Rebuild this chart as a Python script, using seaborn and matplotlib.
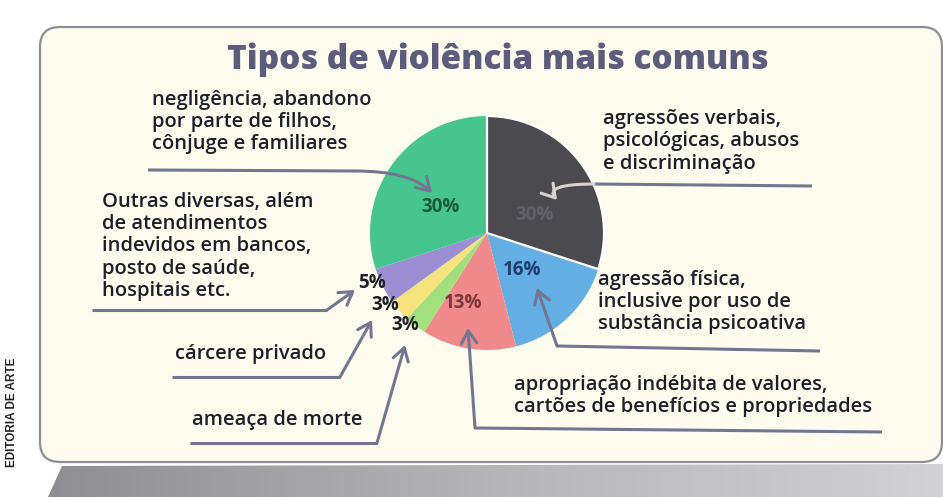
import numpy as np
import matplotlib
matplotlib.use("Agg")
import matplotlib.pyplot as plt
import seaborn as sns
from matplotlib.colors import LinearSegmentedColormap
from matplotlib.patches import FancyBboxPatch, Polygon

# --- data -------------------------------------------------------------
categories = [
    "agressões verbais,\npsicológicas, abusos\ne discriminação",
    "agressão física,\ninclusive por uso de\nsubstância psicoativa",
    "apropriação indébita de valores,\ncartões de benefícios e propriedades",
    "ameaça de morte",
    "cárcere privado",
    "Outras diversas, além\nde atendimentos\nindevidos em bancos,\nposto de saúde,\nhospitais etc.",
    "negligência, abandono\npor parte de filhos,\ncônjuge e familiares",
]
shares = [30, 16, 13, 3, 3, 5, 30]
title = "Tipos de violência mais comuns"
credit = "EDITORIA DE ARTE"

# --- styling ----------------------------------------------------------
wedge_colors = ["#4b4a4f", "#63aee2", "#f08a8c", "#a2e07e", "#f6e27c", "#9b8ed2", "#47c58e"]
pct_colors = ["#606066", "#1f3d6c", "#7a3a3a", "#1f1f26", "#1f1f26", "#1f1f26", "#1c5a3a"]
pct_pos = [(535, 215), (522, 270), (463, 303), (405, 325), (385, 305), (372, 283), (440, 207)]

# label anchor (left, top)
label_pos = [(603, 109), (598, 270), (514, 375), (192, 410), (175, 344), (102, 192), (152, 90)]

# leader lines: underline polyline, then arrow (start -> tip)
leader_lines = [
    [(812, 186), (594, 184)],
    [(557, 346), (820, 351)],
    [(475, 428), (882, 432)],
    [(190, 443), (377, 443)],
    [(172, 377), (340, 377)],
    [(92, 310), (327, 310)],
    [(148, 170), (355, 171)],
]
arrows = [
    ((594, 184), (557, 200), "angle3,angleA=0,angleB=-50", "#d9d3cf"),
    ((557, 346), (537, 288), "arc3,rad=0", "#737690"),
    ((475, 428), (468, 328), "arc3,rad=0", "#737690"),
    ((377, 443), (405, 345), "arc3,rad=0", "#737690"),
    ((340, 377), (372, 320), "arc3,rad=0", "#737690"),
    ((327, 310), (355, 290), "arc3,rad=0", "#737690"),
    ((355, 171), (432, 193), "angle3,angleA=0,angleB=-45", "#737690"),
]
line_color = "#737690"

sns.set_theme(style="white")
plt.rcParams["font.family"] = ["Open Sans", "DejaVu Sans"]

fig = plt.figure(figsize=(9.43, 4.97), dpi=100)
fig.patch.set_facecolor("white")
ax = fig.add_axes([0, 0, 1, 1])

# soft shadow under the panel: horizontal grey gradient clipped to a strip
grad = np.linspace(0.0, 1.0, 256)[None, :]
shade_cmap = LinearSegmentedColormap.from_list("shade", ["#8f8f93", "#b5b5b8", "#d2d2d4"])
shade = ax.imshow(grad, extent=(45, 943, 497, 462), cmap=shade_cmap, aspect="auto",
                  zorder=0, interpolation="bilinear")
strip = Polygon([(62, 466), (943, 464), (943, 497), (48, 497)], closed=True,
                fc="none", ec="none", transform=ax.transData)
ax.add_patch(strip)
shade.set_clip_path(strip)

# panel
ax.add_patch(FancyBboxPatch((40, 27), 902, 435, boxstyle="round,pad=0,rounding_size=20",
                            fc="#fdfcee", ec="#8e8e96", lw=1.6, zorder=1))

wedges, _ = ax.pie(shares, colors=sns.color_palette(wedge_colors), startangle=-90,
                   counterclock=True, center=(487, 233), radius=117, frame=True,
                   wedgeprops=dict(linewidth=0))
for w in wedges:
    w.set_zorder(2)
wedges[0].set_edgecolor("white")
wedges[0].set_linewidth(1.6)
wedges[0].set_zorder(3)

ax.set_xlim(0, 943)
ax.set_ylim(497, 0)
ax.set_aspect("auto")
ax.axis("off")

# percentages
for v, (x, y), c in zip(shares, pct_pos, pct_colors):
    ax.text(x, y, f"{v}%", ha="center", va="center", fontsize=13.5, fontweight="bold",
            color=c, zorder=5)

# category labels
for txt, (x, y) in zip(categories, label_pos):
    ax.text(x, y, txt, ha="left", va="top", fontsize=14.5, fontweight="semibold",
            color="#1f1f2a", linespacing=1.15, zorder=5)

# leader lines
for pts in leader_lines:
    xs, ys = zip(*pts)
    ax.plot(xs, ys, color=line_color, lw=2.2, solid_capstyle="butt", zorder=4)
for start, tip, conn, col in arrows:
    ax.annotate("", xy=tip, xytext=start,
                arrowprops=dict(arrowstyle="->,head_length=0.45,head_width=0.28",
                                mutation_scale=20, color=col, lw=2.2,
                                shrinkA=0, shrinkB=0, connectionstyle=conn),
                zorder=6)

ax.text(498, 60, title, ha="center", va="center", fontsize=24, fontweight=800,
        color="#5d5c7c", zorder=5)
ax.text(12, 412, credit, ha="center", va="center", rotation=90, fontsize=8.5,
        fontweight="bold", family=["Liberation Sans", "DejaVu Sans"], color="#222222", zorder=5)

fig.savefig("out.png", dpi=100, facecolor="white")
